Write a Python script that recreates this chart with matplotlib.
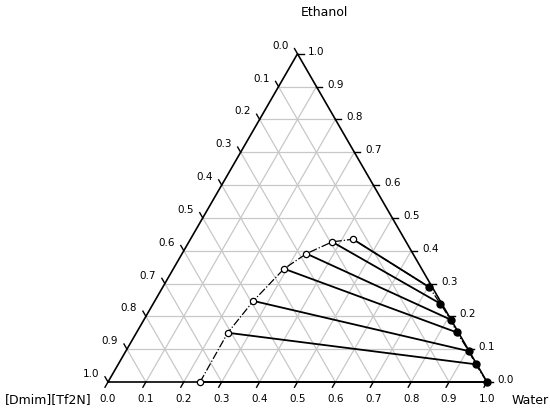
import numpy as np
import matplotlib.pyplot as plt

# IL-rich phase (open circles) and water-rich phase (filled), mass fractions
il_water = [0.243, 0.241, 0.260, 0.292, 0.328, 0.378, 0.429]
il_ethanol = [0.000, 0.150, 0.247, 0.345, 0.391, 0.427, 0.435]
aq_water = [1.000, 0.943, 0.905, 0.845, 0.809, 0.757, 0.703]
aq_ethanol = [0.000, 0.054, 0.094, 0.151, 0.190, 0.239, 0.289]
ticks = np.round(np.arange(0, 1.01, 0.1), 1)

S = np.sqrt(3) / 2


def tern(w, e):
    w = np.asarray(w, float)
    e = np.asarray(e, float)
    return w + e / 2, e * S


px = 379.0  # pixels per unit
fig = plt.figure(figsize=(5.5, 4.12), dpi=100)
ax = fig.add_axes([0, 0, 1, 1])
ax.set_xlim(-108 / px, 442 / px)
ax.set_ylim(-30 / px, 382 / px)
ax.axis('off')

# grid
for t in ticks[1:-1]:
    # constant water
    x, y = tern([t, t], [0, 1 - t])
    ax.plot(x, y, color='#c8c8c8', lw=0.9, zorder=1)
    # constant ethanol
    x, y = tern([0, 1 - t], [t, t])
    ax.plot(x, y, color='#c8c8c8', lw=0.9, zorder=1)
    # constant IL
    x, y = tern([0, 1 - t], [1 - t, 0])
    ax.plot(x, y, color='#c8c8c8', lw=0.9, zorder=1)

# frame
x, y = tern([0, 1, 0, 0], [0, 0, 1, 0])
ax.plot(x, y, color='black', lw=1.2, zorder=2)

d = 6 / px
for t in ticks:
    # bottom: water
    x, y = tern(t, 0)
    ax.plot([x, x - d * 0.5], [y, y - d * S], color='black', lw=1)
    ax.text(x, y - 17 / px, f'{t:.1f}', ha='center', va='center', fontsize=7.5)
    # right: ethanol
    x, y = tern(1 - t, t)
    ax.plot([x, x + d], [y, y], color='black', lw=1)
    ax.text(x + 19 / px, y + 2 / px, f'{t:.1f}', ha='center', va='center', fontsize=7.5)
    # left: IL
    x, y = tern(0, 1 - t)
    ax.plot([x, x - d * 0.5], [y, y + d * S], color='black', lw=1)
    ax.text(x - 17 / px, y + 8 / px, f'{t:.1f}', ha='center', va='center', fontsize=7.5)

# binodal curve
bw = il_water + aq_water[::-1]
be = il_ethanol + aq_ethanol[::-1]
x, y = tern(bw, be)
ax.plot(x, y, color='black', lw=0.9, ls='-.', zorder=3)

# tie lines
for w1, e1, w2, e2 in zip(il_water, il_ethanol, aq_water, aq_ethanol):
    x, y = tern([w1, w2], [e1, e2])
    ax.plot(x, y, color='black', lw=1.3, zorder=3)

x, y = tern(il_water, il_ethanol)
ax.plot(x, y, 'o', mfc='white', mec='black', ms=4.5, mew=0.9, zorder=4)
x, y = tern(aq_water, aq_ethanol)
ax.plot(x, y, 'o', color='black', ms=5, zorder=4)

ax.text(0.5 + 27 / px, (382 - 13) / px, 'Ethanol', ha='center', va='center', fontsize=9)
ax.text(-103 / px, -18 / px, '[Dmim][Tf2N]', ha='left', va='center', fontsize=9)
ax.text(1 + 25 / px, -19 / px, 'Water', ha='left', va='center', fontsize=9)

fig.savefig('out.png', dpi=100)
